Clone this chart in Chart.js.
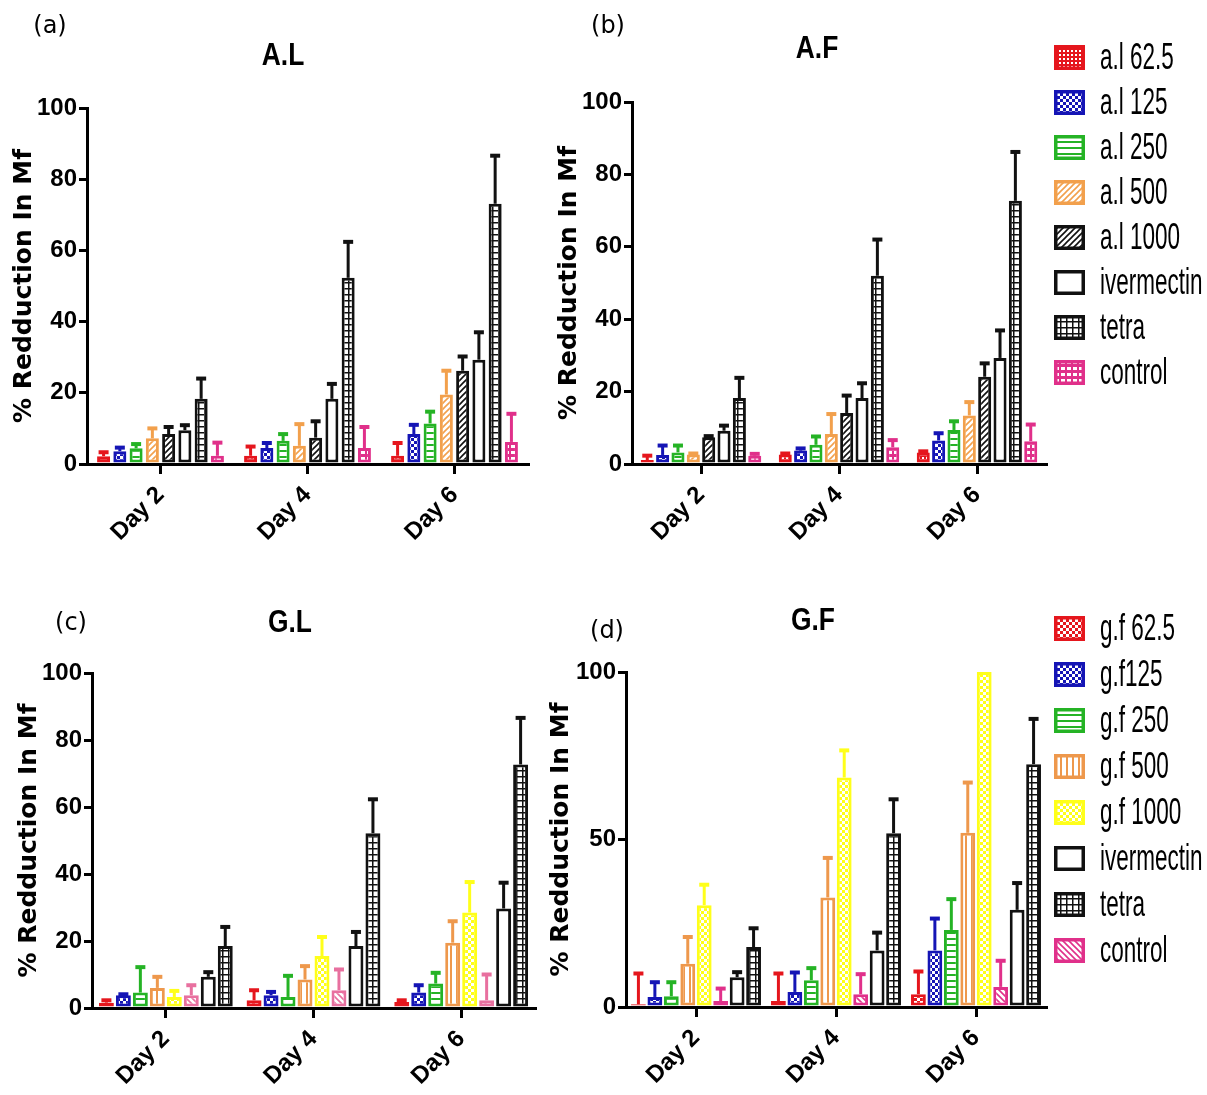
<!DOCTYPE html>
<html lang="en">
<head>
<meta charset="UTF-8">
<title>% Reduction in Mf</title>
<style>
  body { margin: 0; background: #fff; }
  #page { position: relative; width: 1207px; height: 1095px; overflow: hidden; }
  canvas.plot { position: absolute; }
  .lbl { position: absolute; transform: translate(-50%, -50%); font-family: 'DejaVu Sans'; font-size: 24px; white-space: nowrap; }
  .ttl { position: absolute; transform: translate(-50%, -50%) scale(0.88, 1.05); font-family: 'Liberation Sans'; font-weight: bold; font-size: 30px; white-space: nowrap; }
  .leg { position: absolute; left: 1054px; display: flex; align-items: center; transform: translateY(-50%); }
  .leg canvas { display: block; }
  .leg span { margin-left: 15px; font-family: 'Liberation Sans'; font-size: 30px; line-height: 30px; transform-origin: left center; transform: scale(0.75, 1.22); white-space: nowrap; }
</style>
</head>
<body>
<div id="page">
  <canvas class="plot" id="chartA" width="545" height="560" style="left:0;top:0"></canvas>
  <canvas class="plot" id="chartB" width="510" height="560" style="left:545px;top:0"></canvas>
  <canvas class="plot" id="chartC" width="545" height="535" style="left:0;top:560px"></canvas>
  <canvas class="plot" id="chartD" width="510" height="535" style="left:545px;top:560px"></canvas>

  <div class="lbl" style="left:50px;top:25px">(a)</div>
  <div class="ttl" style="left:283px;top:54px">A.L</div>
  <div class="lbl" style="left:608px;top:25px">(b)</div>
  <div class="ttl" style="left:817px;top:47px">A.F</div>
  <div class="lbl" style="left:71px;top:622px">(c)</div>
  <div class="ttl" style="left:290px;top:621px">G.L</div>
  <div class="lbl" style="left:607px;top:630px">(d)</div>
  <div class="ttl" style="left:813px;top:619px">G.F</div>
  <div id="legends"></div>
</div>

<script src="https://cdn.jsdelivr.net/npm/chart.js"></script>
<script>
// categories
const days = ['Day 2', 'Day 4', 'Day 6'];

// series names (as drawn left to right inside each day group)
const alNames = ['a.l 62.5', 'a.l 125', 'a.l 250', 'a.l 500', 'a.l 1000', 'ivermectin', 'tetra', 'control'];
const gfNames = ['g.f 62.5', 'g.f125', 'g.f 250', 'g.f 500', 'g.f 1000', 'control', 'ivermectin', 'tetra'];

// (a) A.L  - mean % reduction and upper error, one row per series
const meanAL = [[2.2, 2.3, 2.3], [3.6, 4.5, 8.4], [4.4, 6.5, 11.4], [7.2, 5.1, 19.5], [8.4, 7.4, 26.2], [9.5, 18.3, 29.3], [18.3, 52.3, 73.1], [2.3, 4.5, 6.2]];
const errAL  = [[1.1, 2.6, 3.6], [1.0, 1.4, 2.6], [1.2, 1.9, 3.3], [2.8, 6.1, 6.7], [2.0, 4.6, 4.0], [1.4, 4.2, 7.7], [5.7, 10.1, 13.5], [3.7, 5.9, 7.9]];

// (b) A.F
const meanAF = [[1.1, 2.6, 3.2], [2.5, 3.7, 6.5], [3.2, 5.3, 9.4], [2.6, 8.3, 13.4], [7.4, 14.1, 24.1], [9.2, 18.2, 29.3], [18.2, 52, 72.7], [2.3, 4.6, 6.3]];
const errAF  = [[1.2, 0.3, 0.3], [2.6, 0.6, 2.0], [1.9, 2.3, 2.4], [0.3, 5.5, 3.7], [0.3, 4.8, 3.7], [1.4, 4.1, 7.6], [5.6, 10, 13.5], [0.5, 2.0, 4.6]];

// (c) G.L
const meanGL = [[1.6, 2.3, 1.8], [3.8, 3.8, 4.6], [4.6, 3.3, 7.3], [6.0, 8.5, 19.5], [3.3, 15.5, 28.5], [3.8, 5.3, 2.3], [9.3, 18.5, 29.7], [18.5, 52.2, 72.7]];
const errGL  = [[0.7, 3.0, 0.5], [0.3, 1.0, 2.2], [7.6, 6.3, 3.2], [3.3, 4.0, 6.4], [1.8, 5.7, 9.1], [3.0, 6.2, 7.7], [1.4, 4.2, 7.7], [5.7, 10.1, 13.9]];

// (d) G.F
const meanGF = [[0.8, 1.8, 3.8], [3.0, 4.5, 16.9], [3.2, 8.0, 23.0], [12.9, 32.7, 52.0], [30.4, 68.5, 100], [1.8, 3.8, 6.0], [8.9, 16.9, 29.0], [17.9, 51.9, 72.5]];
const errGF  = [[9.2, 8.2, 6.8], [4.4, 5.8, 9.5], [4.2, 3.6, 9.2], [8.0, 11.8, 15.0], [6.1, 8.1, 0], [3.7, 6.0, 7.8], [1.5, 5.3, 8.0], [5.6, 10.1, 13.5]];

// styles
const alColors = ['#e5161d', '#1515b5', '#25b325', '#f2a04c', '#111', '#111', '#111', '#e0308a'];
const alKinds  = ['dots', 'checker', 'hstripe', 'diag', 'diag', 'none', 'grid', 'blocks'];
const gfColors = ['#e5161d', '#1515b5', '#25b325', '#ee984c', '#ffff1a', '#e0308a', '#111', '#111'];
const gfKinds  = ['checker', 'checker', 'hstripe', 'vstripe', 'checker', 'bdiag', 'none', 'grid'];
const glColors = gfColors.map((c, i) => i === 5 ? '#e8709f' : c);

Chart.defaults.color = '#000';

function makePattern(ctx, kind, color) {
  const s = kind === 'dots' ? 4 : 6;
  const t = document.createElement('canvas');
  t.width = s; t.height = s;
  const g = t.getContext('2d');
  g.fillStyle = '#fff';
  g.fillRect(0, 0, s, s);
  g.fillStyle = color;
  g.strokeStyle = color;
  g.lineWidth = 1.6;
  if (kind === 'dots') { g.fillRect(0, 0, s, s); g.fillStyle = '#fff'; g.fillRect(1, 1, 2, 2); }
  if (kind === 'checker') { g.fillRect(0, 0, s, s); g.fillStyle = '#fff'; g.fillRect(0, 0, 3, 3); g.fillRect(3, 3, 3, 3); }
  if (kind === 'hstripe') g.fillRect(0, 0, s, 2);
  if (kind === 'vstripe') g.fillRect(0, 0, 2, s);
  if (kind === 'grid') { g.fillRect(0, 0, s, 1.5); g.fillRect(0, 0, 1.5, s); }
  if (kind === 'blocks') { g.fillRect(0, 0, s, s); g.fillStyle = '#fff'; g.fillRect(1, 1, 4, 3); }
  if (kind === 'diag' || kind === 'bdiag') {
    g.beginPath();
    if (kind === 'diag') { g.moveTo(0, s); g.lineTo(s, 0); g.moveTo(-1, 1); g.lineTo(1, -1); g.moveTo(s - 1, s + 1); g.lineTo(s + 1, s - 1); }
    else { g.moveTo(0, 0); g.lineTo(s, s); g.moveTo(s - 1, -1); g.lineTo(s + 1, 1); g.moveTo(-1, s - 1); g.lineTo(1, s + 1); }
    g.stroke();
  }
  return ctx.createPattern(t, 'repeat');
}

// one-sided (upper) error bars drawn from the bar tops
const errorBars = {
  id: 'errorBars',
  afterDatasetsDraw(chart) {
    const ctx = chart.ctx, y = chart.scales.y;
    chart.data.datasets.forEach((ds, i) => {
      chart.getDatasetMeta(i).data.forEach((bar, j) => {
        const e = ds.err[j];
        if (!e) return;
        const top = y.getPixelForValue(ds.data[j] + e);
        ctx.save();
        ctx.strokeStyle = ds.borderColor;
        ctx.lineWidth = 3;
        ctx.beginPath();
        ctx.moveTo(bar.x, bar.y);
        ctx.lineTo(bar.x, top);
        ctx.stroke();
        ctx.lineWidth = 4;
        ctx.beginPath();
        ctx.moveTo(bar.x - 5, top);
        ctx.lineTo(bar.x + 5, top);
        ctx.stroke();
        ctx.restore();
      });
    });
  }
};

function makeChart(id, names, colors, kinds, means, errs, geo) {
  const canvas = document.getElementById(id);
  const ctx = canvas.getContext('2d');
  return new Chart(ctx, {
    type: 'bar',
    data: {
      labels: days,
      datasets: names.map((n, i) => ({
        label: n,
        data: means[i],
        err: errs[i],
        backgroundColor: makePattern(ctx, kinds[i], colors[i]),
        borderColor: colors[i],
        borderWidth: 3,
        borderSkipped: false,
        categoryPercentage: geo.cp,
        barPercentage: geo.bp
      }))
    },
    options: {
      responsive: false,
      animation: false,
      layout: { padding: { left: 0, top: geo.top, right: canvas.width - geo.right, bottom: 0 } },
      plugins: { legend: { display: false }, tooltip: { enabled: false } },
      scales: {
        x: {
          grid: { drawOnChartArea: false, offset: false, color: '#000', lineWidth: 3, tickLength: 10 },
          border: { color: '#000', width: 3 },
          ticks: { color: '#000', font: { family: 'Liberation Sans', weight: 'bold', size: 24 }, minRotation: 45, maxRotation: 45, padding: 7 },
          afterFit: s => { s.height = canvas.height - geo.bottom; }
        },
        y: {
          min: 0, max: 100,
          ticks: { stepSize: geo.step, color: '#000', font: { family: 'Liberation Sans', weight: 'bold', size: 24 }, padding: 2 },
          grid: { drawOnChartArea: false, color: '#000', lineWidth: 3, tickLength: 8 },
          border: { color: '#000', width: 3 },
          title: { display: true, text: '% Redduction In Mf', color: '#000', font: { family: 'DejaVu Sans', weight: 'bold', size: 25, lineHeight: 1 }, padding: { top: geo.tp, bottom: 0 } },
          afterFit: s => { s.width = geo.left; }
        }
      }
    },
    plugins: [errorBars]
  });
}

makeChart('chartA', alNames, alColors, alKinds, meanAL, errAL, { left: 87, right: 528, top: 108, bottom: 464, step: 20, cp: 0.885, bp: 0.8, tp: 12 });
makeChart('chartB', alNames, alColors, alKinds, meanAF, errAF, { left: 87, right: 501, top: 102, bottom: 464, step: 20, cp: 0.89, bp: 0.85, tp: 12 });
makeChart('chartC', gfNames, glColors, gfKinds, meanGL, errGL, { left: 92, right: 535, top: 113, bottom: 448, step: 20, cp: 0.92, bp: 0.88, tp: 17 });
makeChart('chartD', gfNames, gfColors, gfKinds, meanGF, errGF, { left: 81, right: 501, top: 112, bottom: 447, step: 50, cp: 0.94, bp: 0.9, tp: 4 });

// legends, in the order the original figure lists them
function addLegend(names, colors, kinds, order, y0, dy) {
  const holder = document.getElementById('legends');
  order.forEach((i, r) => {
    const row = document.createElement('div');
    row.className = 'leg';
    row.style.top = (y0 + r * dy) + 'px';
    const sw = document.createElement('canvas');
    sw.width = 31; sw.height = 25;
    const g = sw.getContext('2d');
    g.fillStyle = makePattern(g, kinds[i], colors[i]);
    g.fillRect(0, 0, 31, 25);
    g.strokeStyle = colors[i];
    g.lineWidth = 3.5;
    g.strokeRect(1.75, 1.75, 27.5, 21.5);
    const tx = document.createElement('span');
    tx.textContent = names[i];
    row.appendChild(sw);
    row.appendChild(tx);
    holder.appendChild(row);
  });
}
addLegend(alNames, alColors, alKinds, [0, 1, 2, 3, 4, 5, 6, 7], 57, 45);
addLegend(gfNames, gfColors, gfKinds, [0, 1, 2, 3, 4, 6, 7, 5], 628, 46);
</script>
</body>
</html>
